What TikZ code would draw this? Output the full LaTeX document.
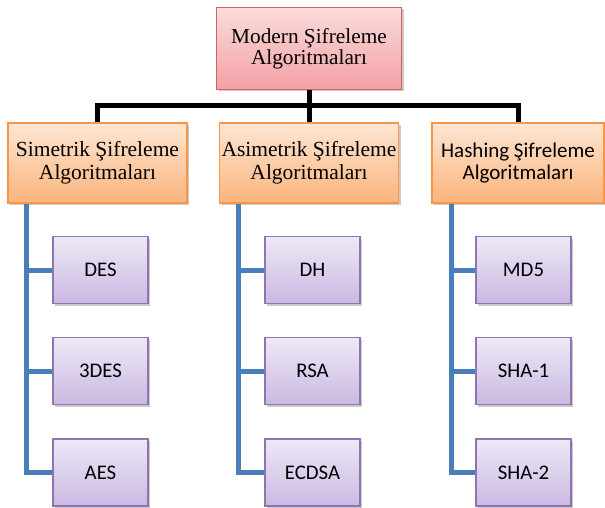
\documentclass[tikz,border=0pt]{standalone}
\usepackage{fontspec}
\setmainfont{Liberation Serif}
\newfontfamily\calfont{Carlito}
\usetikzlibrary{shadows}
\definecolor{topA}{HTML}{FBDCDC}
\definecolor{topB}{HTML}{F2A0A3}
\definecolor{topL}{HTML}{D0625F}
\definecolor{orA}{HTML}{FEE6D3}
\definecolor{orB}{HTML}{FAB47C}
\definecolor{orL}{HTML}{F79646}
\definecolor{puA}{HTML}{EEE8F6}
\definecolor{puB}{HTML}{CAB9E2}
\definecolor{puL}{HTML}{8F74B0}
\definecolor{blueL}{HTML}{4A7EBB}
\tikzset{
  boxbase/.style={rectangle, line width=1.2pt, align=center, inner sep=0pt,
    drop shadow={shadow xshift=2pt, shadow yshift=-2pt, opacity=0.35, fill=black!60}},
  topbox/.style={boxbase, draw=topL, top color=topA, bottom color=topB,
    minimum width=185pt, minimum height=82pt, font=\fontsize{21.3}{21}\selectfont},
  lvbox/.style={boxbase, draw=orL, top color=orA, bottom color=orB,
    minimum width=179pt, minimum height=80pt, font=\fontsize{21.5}{22.5}\selectfont},
  leafbox/.style={boxbase, draw=puL, top color=puA, bottom color=puB,
    minimum width=95pt, minimum height=67pt, font=\calfont\fontsize{20.8}{22}\selectfont},
  blackline/.style={draw=black, line width=5pt},
  blueline/.style={draw=blueL, line width=5pt}
}
\begin{document}
\begin{tikzpicture}[x=1pt,y=-1pt]
\useasboundingbox (0,0) rectangle (605,508);
\node[topbox] (top) at (309,48.5) {Modern Şifreleme\\Algoritmaları};
\node[lvbox] (sym) at (97.5,163) {Simetrik Şifreleme\\Algoritmaları};
\node[lvbox] (asym) at (309,163) {Asimetrik Şifreleme\\Algoritmaları};
\node[lvbox, minimum width=172pt, font=\calfont\fontsize{21}{22.5}\selectfont] (hash) at (518,163) {Hashing Şifreleme\\Algoritmaları};
\node[leafbox] (des) at (100.5,270) {DES};
\node[leafbox] (tdes) at (100.5,371) {3DES};
\node[leafbox] (aes) at (100.5,472.5) {AES};
\node[leafbox] (dh) at (312.5,270) {DH};
\node[leafbox] (rsa) at (312.5,371) {RSA};
\node[leafbox] (ecdsa) at (312.5,472.5) {ECDSA};
\node[leafbox] (md5) at (523.5,270) {MD5};
\node[leafbox] (sha1) at (523.5,371) {SHA-1};
\node[leafbox] (sha2) at (523.5,472.5) {SHA-2};
\draw[blackline] (top.south) -- ++(0,15) coordinate (bus) -| (sym.north);
\draw[blackline] (bus) -| (hash.north);
\draw[blackline] (top.south) -- (asym.north);
\draw[blueline] ([xshift=19pt]sym.south west) |- (aes.west);
\draw[blueline] ([xshift=19pt]sym.south west |- des.west) -- (des.west);
\draw[blueline] ([xshift=19pt]sym.south west |- tdes.west) -- (tdes.west);
\draw[blueline] ([xshift=20pt]asym.south west) |- (ecdsa.west);
\draw[blueline] ([xshift=20pt]asym.south west |- dh.west) -- (dh.west);
\draw[blueline] ([xshift=20pt]asym.south west |- rsa.west) -- (rsa.west);
\draw[blueline] ([xshift=20pt]hash.south west) |- (sha2.west);
\draw[blueline] ([xshift=20pt]hash.south west |- md5.west) -- (md5.west);
\draw[blueline] ([xshift=20pt]hash.south west |- sha1.west) -- (sha1.west);
\end{tikzpicture}
\end{document}
